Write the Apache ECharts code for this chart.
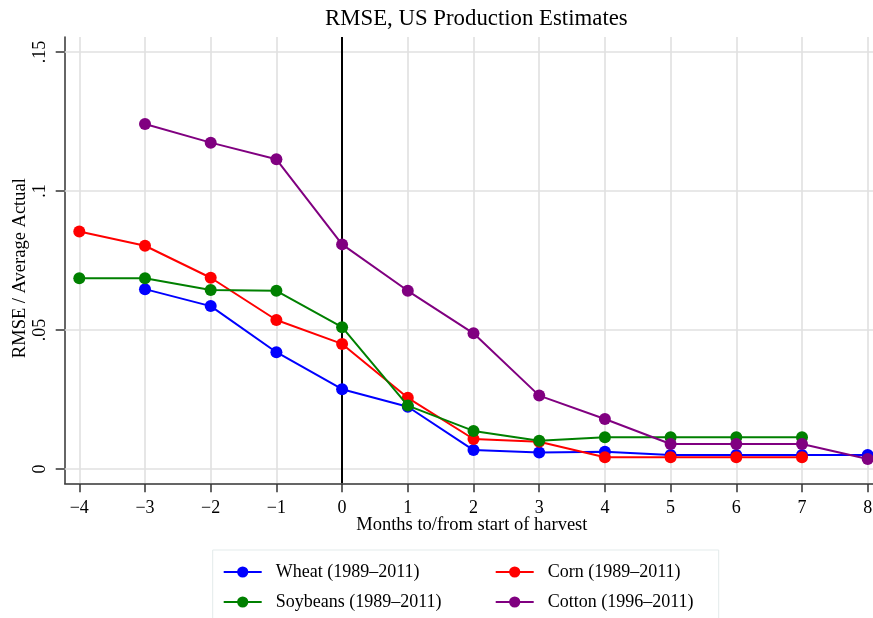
<!DOCTYPE html>
<html>
<head>
<meta charset="utf-8">
<script src="https://cdn.jsdelivr.net/npm/echarts@6/dist/echarts.min.js"></script>
<style>html,body{margin:0;padding:0;background:#fff;}#c{width:873px;height:618px;}</style>
</head>
<body>
<div id="c"></div>
<script>
const months = [-4, -3, -2, -1, 0, 1, 2, 3, 4, 5, 6, 7, 8];
const wheat    = [null, 0.0647, 0.0586, 0.0420, 0.0287, 0.0224, 0.0068, 0.0059, 0.0062, 0.0050, 0.0050, 0.0050, 0.0050];
const corn     = [0.0854, 0.0803, 0.0688, 0.0536, 0.0450, 0.0256, 0.0108, 0.0098, 0.0042, 0.0042, 0.0042, 0.0042, null];
const soybeans = [0.0686, 0.0686, 0.0644, 0.0641, 0.0510, 0.0228, 0.0137, 0.0102, 0.0114, 0.0114, 0.0114, 0.0114, null];
const cotton   = [null, 0.1241, 0.1174, 0.1114, 0.0808, 0.0641, 0.0488, 0.0264, 0.0180, 0.0090, 0.0090, 0.0090, 0.0036];
const xTicks = [-4, -3, -2, -1, 0, 1, 2, 3, 4, 5, 6, 7, 8];
const yTicks = [0, 0.05, 0.1, 0.15];
const seriesNames = ['Wheat (1989\u20132011)', 'Corn (1989\u20132011)', 'Soybeans (1989\u20132011)', 'Cotton (1996\u20132011)'];
const seriesColors = ['#0000ff', '#ff0000', '#008000', '#800080'];
const seriesData = [wheat, corn, soybeans, cotton];

const FONT = 'Liberation Serif';
const chart = echarts.init(document.getElementById('c'), null, {renderer: 'canvas'});

const dataSeries = seriesData.map((arr, i) => ({
  name: seriesNames[i],
  type: 'line',
  data: months.map((m, j) => [m, arr[j]]),
  connectNulls: false,
  symbol: 'circle',
  symbolSize: 12,
  color: seriesColors[i],
  lineStyle: {width: 2, color: seriesColors[i]},
  itemStyle: {color: seriesColors[i]},
  z: 3 + i,
  clip: false,
  animation: false
}));

const gridLine = {color: '#e0e0e0', width: 1.6, type: 'solid'};
const helper = {
  name: 'grid',
  type: 'line',
  data: [],
  z: 1,
  animation: false,
  markLine: {
    silent: true,
    z: 1,
    symbol: ['none', 'none'],
    label: {show: false},
    animation: false,
    lineStyle: gridLine,
    data: xTicks.map(v => ({xAxis: v}))
      .concat(yTicks.map(v => ({yAxis: v})))
      .concat([{xAxis: 0, lineStyle: {color: '#000', width: 2, type: 'solid'}}])
  }
};

const fmtX = v => (v < 0 ? '\u2212' + Math.abs(v) : String(v));
const fmtY = v => (v === 0 ? '0' : String(v).replace(/^0/, ''));

chart.setOption({
  animation: false,
  backgroundColor: '#fff',
  title: {
    text: 'RMSE, US Production Estimates',
    left: 320, top: 3,
    textStyle: {fontFamily: FONT, fontSize: 22.8, fontWeight: 'normal', color: '#000'}
  },
  grid: {left: 64.7, right: 0, top: 37, bottom: 134.7, containLabel: false, outerBoundsMode: 'none'},
  xAxis: {
    type: 'value',
    min: -4.2222, max: 8.0807,
    minInterval: 1, maxInterval: 1,
    axisLine: {show: true, onZero: false, lineStyle: {color: '#333', width: 1.5}},
    axisTick: {show: true, length: 9, customValues: xTicks, lineStyle: {color: '#333', width: 1.5}},
    axisLabel: {customValues: xTicks, formatter: fmtX, margin: 16, fontFamily: FONT, fontSize: 18, color: '#000'},
    splitLine: {show: false},
    name: 'Months to/from start of harvest',
    nameLocation: 'middle', nameGap: 32, nameMoveOverlap: false,
    nameTextStyle: {fontFamily: FONT, fontSize: 18.5, color: '#000', padding: [0, 0, 0, 6]}
  },
  yAxis: {
    type: 'value',
    min: -0.005144, max: 0.1554,
    minInterval: 0.05, maxInterval: 0.05,
    axisLine: {show: true, onZero: false, lineStyle: {color: '#333', width: 1.5}},
    axisTick: {show: true, length: 9, customValues: yTicks, lineStyle: {color: '#333', width: 1.5}},
    axisLabel: {customValues: yTicks, formatter: fmtY, rotate: 90, margin: 15, fontFamily: FONT, fontSize: 18, color: '#000'},
    splitLine: {show: false},
    name: 'RMSE / Average Actual',
    nameLocation: 'middle', nameGap: 35.5, nameMoveOverlap: false,
    nameTextStyle: {fontFamily: FONT, fontSize: 18.5, color: '#000', padding: [0, 16, 0, 0]}
  },
  legend: {
    data: [seriesNames[0], seriesNames[1], seriesNames[2], seriesNames[3]],
    left: 212.7, top: 550,
    orient: 'horizontal',
    width: 520,
    padding: [13, 11, 13, 10],
    itemGap: 12,
    itemWidth: 38, itemHeight: 14,
    borderColor: '#e3ebeb', borderWidth: 1,
    backgroundColor: '#fff',
    formatter: name => (name === seriesNames[0] || name === seriesNames[2] ? '{a|' + name + '}' : '{b|' + name + '}'),
    textStyle: {
      fontFamily: FONT, fontSize: 18, color: '#000',
      rich: {
        a: {fontFamily: FONT, fontSize: 18, color: '#000', width: 207, lineHeight: 20, padding: [0, 0, 0, 9]},
        b: {fontFamily: FONT, fontSize: 18, color: '#000', width: 160, lineHeight: 20, padding: [0, 0, 0, 9]}
      }
    }
  },
  series: [helper].concat(dataSeries)
});
</script>
</body>
</html>
